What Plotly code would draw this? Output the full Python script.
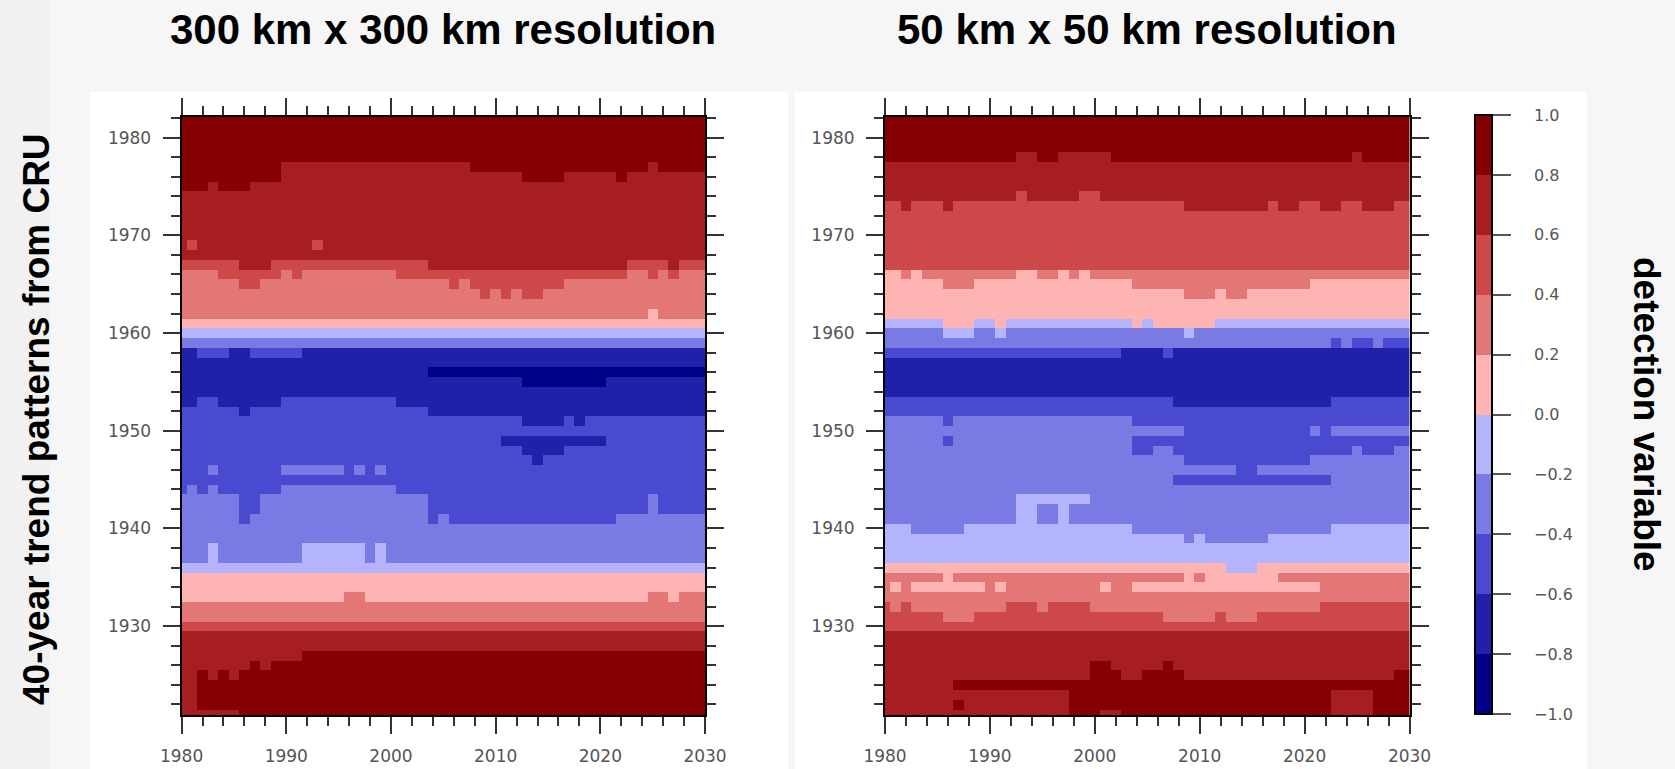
import plotly.graph_objects as go

# ---------------- data ----------------
# columns: cell centres 1980..2030 ; rows: cell centres 1982 (top) .. 1921 (bottom)
X_YEARS = list(range(1980, 2031))
Y_YEARS = list(range(1982, 1920, -1))

# detection-variable class per cell, run-length coded "class*count"
# class k covers [-1 + 0.2k, -0.8 + 0.2k]
LEFT_ROWS = [
    "9*51", "9*51", "9*51", "9*51", "9*51",
    "9*10 8*18 9*17 8*1 9*5",
    "9*10 8*23 9*4 8*5 9*1 8*8",
    "9*3 8*1 9*3 8*44",
    "8*51", "8*51", "8*51", "8*51", "8*51",
    "8*1 7*1 8*11 7*1 8*37",
    "8*51",
    "7*6 8*3 7*15 8*19 7*4 8*1 7*3",
    "6*4 7*6 6*1 7*1 6*9 7*22 6*2 7*1 6*1 7*1 6*3",
    "6*6 7*2 6*18 7*1 6*1 7*9 6*14",
    "6*29 7*1 6*1 7*1 6*1 7*2 6*16",
    "6*51",
    "6*45 5*1 6*5",
    "5*51",
    "4*51",
    "3*51",
    "1*2 2*3 1*2 2*5 1*39",
    "1*51",
    "1*24 0*27",
    "1*33 0*8 1*10",
    "1*51",
    "1*2 2*2 1*6 2*11 1*30",
    "2*6 1*1 2*17 1*27",
    "2*33 1*4 2*1 1*1 2*12",
    "2*51",
    "2*31 1*10 2*10",
    "2*33 1*4 2*14",
    "2*34 1*1 2*16",
    "2*3 3*1 2*6 3*6 2*1 3*1 2*1 3*1 2*31",
    "2*51",
    "2*1 3*1 2*1 3*1 2*6 3*11 2*30",
    "3*6 2*2 3*16 2*21 3*1 2*5",
    "3*6 2*2 3*16 2*21 3*1 2*5",
    "3*6 2*1 3*17 2*1 3*1 2*16 3*9",
    "3*51",
    "3*51",
    "3*3 4*1 3*8 4*6 3*1 4*1 3*31",
    "3*3 4*1 3*8 4*6 3*1 4*1 3*31",
    "4*51",
    "5*51",
    "5*51",
    "5*16 6*2 5*27 6*2 5*1 6*3",
    "6*51",
    "6*51",
    "7*51",
    "8*51",
    "8*51",
    "8*12 9*39",
    "8*7 9*1 8*1 9*42",
    "8*2 9*1 8*1 9*1 8*1 9*45",
    "8*2 9*49",
    "8*2 9*49",
    "8*2 9*49",
    "8*6 9*45",
]

RIGHT_ROWS = [
    "9*51", "9*51", "9*51", "9*51",
    "9*13 8*2 9*2 8*5 9*23 8*1 9*5",
    "8*51", "8*51", "8*51",
    "8*13 7*1 8*5 7*2 8*30",
    "7*2 8*1 7*3 8*1 7*22 8*8 7*1 8*2 7*2 8*2 7*2 8*3 7*2",
    "7*51", "7*51", "7*51", "7*51", "7*51", "7*51",
    "5*2 6*1 5*1 6*9 5*2 6*2 5*1 6*1 5*1 6*31",
    "5*6 6*3 5*15 6*17 5*10",
    "5*29 6*3 5*1 6*2 5*16",
    "5*51",
    "5*51",
    "4*6 5*3 4*2 5*1 4*12 5*1 4*1 5*6 4*19",
    "3*6 4*3 3*2 4*1 3*17 4*1 3*21",
    "3*43 2*1 3*1 2*2 3*1 2*3",
    "2*23 1*4 2*1 1*23",
    "1*51", "1*51", "1*51", "1*51",
    "2*28 1*15 2*8",
    "2*51",
    "3*6 2*1 3*17 2*27",
    "3*29 2*12 3*1 2*1 3*8",
    "3*6 2*1 3*17 2*27",
    "3*24 2*2 3*2 2*17 3*1 2*3 3*2",
    "3*29 2*12 3*10",
    "3*34 2*2 3*15",
    "3*28 2*15 3*8",
    "3*51",
    "3*13 4*7 3*31",
    "3*13 4*2 3*2 4*1 3*33",
    "3*13 4*2 3*2 4*1 3*33",
    "4*3 3*5 4*16 3*19 4*8",
    "4*29 3*1 4*1 3*6 4*14",
    "4*51",
    "4*51",
    "5*33 4*3 5*15",
    "6*6 5*1 6*22 5*1 6*1 5*7 6*13",
    "6*1 5*1 6*1 5*7 6*1 5*1 6*9 5*1 6*2 5*18 6*9",
    "6*51",
    "7*1 6*1 7*1 6*9 7*3 6*1 7*4 6*22 7*9",
    "7*6 6*3 7*18 6*5 7*1 6*3 7*15",
    "7*51",
    "8*51", "8*51", "8*51",
    "8*20 9*2 8*5 9*1 8*23",
    "8*20 9*3 8*2 9*4 8*20 9*2",
    "8*7 9*44",
    "8*18 9*25 8*4 9*4",
    "8*7 9*1 8*10 9*25 8*4 9*4",
    "8*18 9*3 8*2 9*20 8*4 9*4",
]

CLASS_VALUES = [-0.9, -0.7, -0.5, -0.3, -0.1, 0.1, 0.3, 0.5, 0.7, 0.9]
CLASS_COLORS = ["#000086", "#2020a8", "#4a4ad0", "#7a7ae4", "#b4b4fd",
                "#fdb4b3", "#e37775", "#cd4849", "#a61d22", "#850000"]
CB_TICKS = [-1.0, -0.8, -0.6, -0.4, -0.2, 0.0, 0.2, 0.4, 0.6, 0.8, 1.0]
CB_LABELS = ["\u22121.0", "\u22120.8", "\u22120.6", "\u22120.4", "\u22120.2",
             "0.0", "0.2", "0.4", "0.6", "0.8", "1.0"]
X_TICKS = [1980, 1990, 2000, 2010, 2020, 2030]
Y_TICKS = [1930, 1940, 1950, 1960, 1970, 1980]

TITLES = ["300 km x 300 km resolution", "50 km x 50 km resolution"]
LEFT_LABEL = "40-year trend patterns from CRU"
RIGHT_LABEL = "detection variable"


def decode(rows):
    grid = []
    for r in rows:
        vals = []
        for tok in r.split():
            k, n = tok.split("*")
            vals += [CLASS_VALUES[int(k)]] * int(n)
        assert len(vals) == len(X_YEARS), (r, len(vals))
        grid.append(vals)
    assert len(grid) == len(Y_YEARS)
    return grid


colorscale = []
for i, c in enumerate(CLASS_COLORS):
    colorscale.append([i / 10, c])
    colorscale.append([(i + 1) / 10, c])

W, H = 1675, 769


def px_x(v):
    return v / W


def px_y(v):
    return 1 - v / H


TOP, BOT = 116.7, 715.0
panels = [(181.6, 705.0), (885.0, 1409.5)]

fig = go.Figure()
for i, rows in enumerate([LEFT_ROWS, RIGHT_ROWS]):
    fig.add_trace(go.Heatmap(
        x=X_YEARS, y=Y_YEARS, z=decode(rows),
        zmin=-1, zmax=1, colorscale=colorscale,
        xaxis="x" if i == 0 else "x2", yaxis="y" if i == 0 else "y2",
        showscale=(i == 1),
        hoverinfo="skip",
        colorbar=dict(
            x=px_x(1475), xanchor="left", xpad=0, ypad=0,
            y=px_y(714), yanchor="bottom", lenmode="pixels", len=599,
            thickness=17, outlinecolor="black", outlinewidth=2,
            tickvals=CB_TICKS, ticktext=["\u00a0\u00a0\u00a0\u00a0" + t for t in CB_LABELS],
            ticks="outside", ticklen=18, tickwidth=1.5, tickcolor="#555",
            tickfont=dict(family="DejaVu Sans", size=16, color="#555"),
        ),
    ))

tickfont = dict(family="DejaVu Sans", size=17, color="#555")
common = dict(
    showgrid=False, zeroline=False, showline=True, linecolor="black", linewidth=2,
    mirror="allticks", ticks="outside", ticklen=17, tickwidth=2, tickcolor="#333",
    tickfont=tickfont, automargin=False,
)
layout = dict(
    width=W, height=H, autosize=False,
    margin=dict(l=0, r=0, t=0, b=0, autoexpand=False),
    paper_bgcolor="#f6f6f6", plot_bgcolor="white",
    showlegend=False,
)
for i, (x0, x1) in enumerate(panels):
    sx = "" if i == 0 else "2"
    layout["xaxis" + sx] = dict(
        common, domain=[px_x(x0), px_x(x1)], range=[1980, 2030],
        tickvals=X_TICKS, ticklabelstandoff=8,
        minor=dict(dtick=2, tick0=1980, ticks="outside", ticklen=9, tickwidth=1.5, tickcolor="#333"),
        anchor="y" + sx,
    )
    layout["yaxis" + sx] = dict(
        common, domain=[px_y(BOT), px_y(TOP)], range=[1920.9, 1982.15],
        tickvals=Y_TICKS, ticklabelstandoff=8,
        minor=dict(dtick=2, tick0=1920, ticks="outside", ticklen=9, tickwidth=1.5, tickcolor="#333"),
        anchor="x" + sx,
    )
fig.update_layout(**layout)

# white slide panels behind the plots
fig.add_shape(type="rect", xref="paper", yref="paper", x0=0, x1=px_x(50), y0=0, y1=1,
              fillcolor="#f1f1f1", line_width=0, layer="below")
fig.add_shape(type="rect", xref="paper", yref="paper", x0=px_x(90), x1=px_x(788), y0=0, y1=px_y(92),
              fillcolor="white", line_width=0, layer="below")
fig.add_shape(type="rect", xref="paper", yref="paper", x0=px_x(795), x1=px_x(1587), y0=0, y1=px_y(92),
              fillcolor="white", line_width=0, layer="below")

title_font = dict(family="Liberation Sans, Arial", size=42, color="black")
for (x0, x1), t in zip(panels, TITLES):
    fig.add_annotation(text="<b>%s</b>" % t, xref="paper", yref="paper",
                       x=px_x((x0 + x1) / 2), y=px_y(29), xanchor="center", yanchor="middle",
                       showarrow=False, font=title_font)
fig.add_annotation(text="<b>%s</b>" % LEFT_LABEL, xref="paper", yref="paper",
                   x=px_x(37), y=px_y(419), textangle=-90, xanchor="center", yanchor="middle",
                   showarrow=False, font=dict(family="Liberation Sans, Arial", size=37, color="black"))
fig.add_annotation(text="<b>%s</b>" % RIGHT_LABEL, xref="paper", yref="paper",
                   x=px_x(1646), y=px_y(414), textangle=90, xanchor="center", yanchor="middle",
                   showarrow=False, font=dict(family="Liberation Sans, Arial", size=37, color="black"))

fig.write_html("out.html")
